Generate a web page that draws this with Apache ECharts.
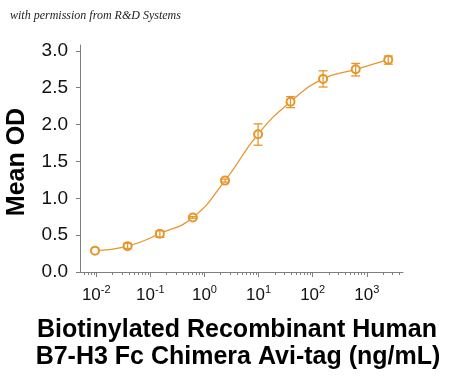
<!DOCTYPE html>
<html>
<head>
<meta charset="utf-8">
<script src="https://cdn.jsdelivr.net/npm/echarts@6/dist/echarts.min.js"></script>
<style>
  html, body { margin: 0; padding: 0; background: #fff; }
  #chart { width: 450px; height: 377px; }
</style>
</head>
<body>
<div id="chart"></div>
<script>
// concentration (ng/mL) and mean OD
const conc = [0.0095, 0.038, 0.15, 0.61, 2.4, 9.8, 39, 156, 625, 2500];
const meanOD = [0.29, 0.35, 0.52, 0.74, 1.24, 1.87, 2.31, 2.62, 2.75, 2.88];
const errLow = [0.29, 0.32, 0.47, 0.73, 1.22, 1.72, 2.23, 2.51, 2.66, 2.82];
const errHigh = [0.29, 0.39, 0.56, 0.75, 1.26, 2.01, 2.38, 2.73, 2.83, 2.93];

// axis ticks
const decades = [-2, -1, 0, 1, 2, 3];
const yTicks = [0, 0.5, 1.0, 1.5, 2.0, 2.5, 3.0];

const orange = '#e6962b';
const axisGrey = '#7f7f7f';

const xMin = -2.3, xMax = 3.67;

// minor ticks of the log axis (2..9 in each decade)
const minorTicks = [];
for (let d = -3; d <= 3; d++) {
  for (let k = 2; k <= 9; k++) {
    const v = d + Math.log10(k);
    if (v > xMin && v < xMax) minorTicks.push(v);
  }
}

const pts = conc.map((c, i) => [Math.log10(c), meanOD[i]]);
const bars = conc.map((c, i) => [Math.log10(c), errLow[i], errHigh[i]])
  .filter(b => b[2] > b[1]);

const chart = echarts.init(document.getElementById('chart'));

chart.setOption({
  animation: false,
  grid: { left: 80, right: 47, top: 45, bottom: 105 },
  xAxis: [{
    type: 'value', min: xMin, max: xMax,
    splitLine: { show: false },
    axisLine: { onZero: false, lineStyle: { color: axisGrey, width: 1 } },
    axisTick: { customValues: decades, length: 5, lineStyle: { color: axisGrey } },
    axisLabel: {
      customValues: decades, margin: 12,
      formatter: v => '{b|10}{s|' + v + '}',
      rich: {
        b: { fontFamily: 'Liberation Sans', fontSize: 17, color: '#111', verticalAlign: 'bottom', lineHeight: 20 },
        s: { fontFamily: 'Liberation Sans', fontSize: 11, color: '#111', verticalAlign: 'top', lineHeight: 20 }
      }
    }
  }, {
    type: 'value', min: xMin, max: xMax, position: 'bottom',
    splitLine: { show: false },
    axisLine: { show: false, onZero: false },
    axisLabel: { show: false },
    axisTick: { customValues: minorTicks, length: 3, lineStyle: { color: axisGrey } }
  }],
  yAxis: {
    type: 'value', min: 0, max: 3.08,
    splitLine: { show: false },
    axisLine: { show: true, onZero: false, lineStyle: { color: axisGrey, width: 1 } },
    axisTick: { show: true, customValues: yTicks, length: 4, lineStyle: { color: axisGrey } },
    axisLabel: {
      customValues: yTicks, margin: 12,
      fontFamily: 'Liberation Sans', fontSize: 19, color: '#111',
      formatter: v => v.toFixed(1)
    }
  },
  series: [{
    type: 'line',
    data: pts,
    smooth: 0.5,
    symbol: 'emptyCircle',
    symbolSize: 8,
    lineStyle: { color: orange, width: 1.3 },
    itemStyle: { color: orange, borderColor: orange, borderWidth: 1.3 },
    z: 3
  }, {
    type: 'custom',
    data: bars,
    z: 4,
    renderItem: (params, api) => {
      const lo = api.coord([api.value(0), api.value(1)]);
      const hi = api.coord([api.value(0), api.value(2)]);
      const w = 4.5;
      const st = { stroke: orange, lineWidth: 1.3 };
      return {
        type: 'group',
        children: [
          { type: 'line', shape: { x1: lo[0], y1: lo[1], x2: hi[0], y2: hi[1] }, style: st },
          { type: 'line', shape: { x1: lo[0] - w, y1: lo[1], x2: lo[0] + w, y2: lo[1] }, style: st },
          { type: 'line', shape: { x1: hi[0] - w, y1: hi[1], x2: hi[0] + w, y2: hi[1] }, style: st }
        ]
      };
    }
  }],
  graphic: [{
    type: 'text', x: 10, y: 16,
    style: {
      text: 'with permission from R&D Systems',
      font: 'italic 12px "Liberation Serif"', fill: '#222', verticalAlign: 'middle'
    }
  }, {
    type: 'text', x: 17, y: 162, rotation: Math.PI / 2,
    style: {
      text: 'Mean OD', font: 'bold 25px "Liberation Sans"', fill: '#000',
      align: 'center', verticalAlign: 'middle'
    }
  }, {
    type: 'text', x: 237, y: 330,
    style: {
      text: 'Biotinylated Recombinant Human', font: 'bold 25px "Liberation Sans"', fill: '#000',
      align: 'center', verticalAlign: 'middle'
    }
  }, {
    type: 'text', x: 238, y: 357,
    style: {
      text: 'B7-H3 Fc Chimera Avi-tag (ng/mL)', font: 'bold 25px "Liberation Sans"', fill: '#000',
      align: 'center', verticalAlign: 'middle'
    }
  }]
});
</script>
</body>
</html>
